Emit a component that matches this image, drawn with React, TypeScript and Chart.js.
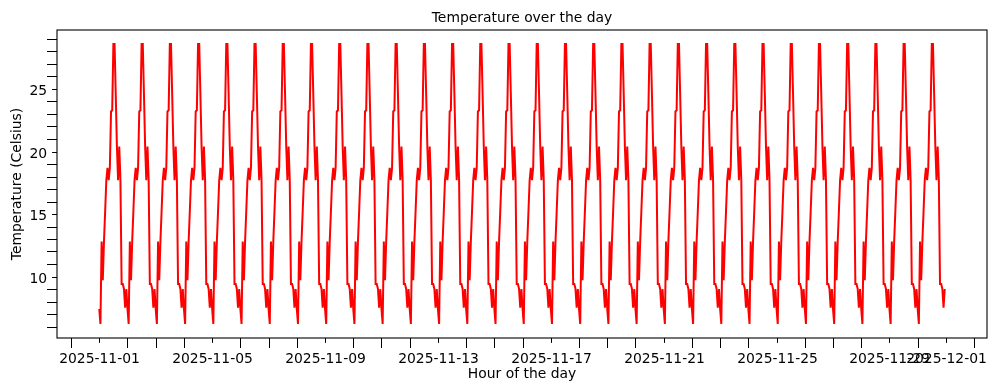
import React, { useEffect, useRef } from "react";
import { Chart, registerables } from "chart.js";

Chart.register(...registerables);

// ---- data ----
const START_DATE = "2025-11-01";
const NUM_DAYS = 30;
// one day's hourly temperatures (°C), hour 0 .. 23 — identical every day in the picture
const HOURLY_TEMPS = [
  7.4, 6.2, 12.8, 9.7, 12.8, 15.2, 17.7, 18.7, 17.7, 18.7, 23.2, 23.3,
  28.6, 28.6, 24.6, 20.4, 17.7, 20.4, 17.7, 9.4, 9.4, 9.0, 7.5, 9.0,
];
const X_TICK_LABELS = [
  "2025-11-01", "2025-11-05", "2025-11-09", "2025-11-13", "2025-11-17",
  "2025-11-21", "2025-11-25", "2025-11-29", "2025-12-01",
];
const Y_TICK_LABELS = [10, 15, 20, 25];
const TITLE = "Temperature over the day";
const X_LABEL = "Hour of the day";
const Y_LABEL = "Temperature (Celsius)";

const DAY_MS = 86400000;
const startMs = Date.parse(START_DATE + "T00:00:00Z");
const dayOf = (s: string) => (Date.parse(s + "T00:00:00Z") - startMs) / DAY_MS;

const FONT = "13.9px 'DejaVu Sans'";

export default function App() {
  const ref = useRef<HTMLCanvasElement | null>(null);

  useEffect(() => {
    document.body.style.margin = "0";
    const canvas = ref.current!;
    const points: { x: number; y: number }[] = [];
    for (let d = 0; d < NUM_DAYS; d++) {
      HOURLY_TEMPS.forEach((t, h) => points.push({ x: d + h / 24, y: t }));
    }
    const xs = points.map((p) => p.x);
    const ys = points.map((p) => p.y);
    const xMinD = Math.min(...xs), xMaxD = Math.max(...xs);
    const yMinD = Math.min(...ys), yMaxD = Math.max(...ys);
    const xm = (xMaxD - xMinD) * 0.05;
    const ym = (yMaxD - yMinD) * 0.05;

    const majorX = X_TICK_LABELS.map(dayOf);

    const axesPlugin = {
      id: "mplAxes",
      afterDraw(chart: any) {
        const { ctx, chartArea } = chart;
        const { left, right, top, bottom } = chartArea;
        const x = chart.scales.x;
        const y = chart.scales.y;
        ctx.save();
        ctx.strokeStyle = "#000";
        ctx.fillStyle = "#000";
        ctx.lineWidth = 1.1;
        ctx.strokeRect(left, top, right - left, bottom - top);

        const majLen = 4.9;
        const minLen = 10;
        const pad = 4.9;
        ctx.lineWidth = 1;
        // x ticks
        ctx.font = FONT;
        ctx.textAlign = "center";
        ctx.textBaseline = "alphabetic";
        X_TICK_LABELS.forEach((lab, i) => {
          const px = Math.round(x.getPixelForValue(majorX[i])) + 0.5;
          ctx.beginPath();
          ctx.moveTo(px, bottom);
          ctx.lineTo(px, bottom + majLen);
          ctx.stroke();
          ctx.fillText(lab, px, bottom + majLen + pad + 15.6);
        });
        for (let d = Math.ceil(x.min); d <= Math.floor(x.max); d++) {
          if (majorX.includes(d)) continue;
          const px = Math.round(x.getPixelForValue(d)) + 0.5;
          ctx.beginPath();
          ctx.moveTo(px, bottom);
          ctx.lineTo(px, bottom + minLen);
          ctx.stroke();
        }
        // y ticks
        ctx.textAlign = "right";
        Y_TICK_LABELS.forEach((v) => {
          const py = Math.round(y.getPixelForValue(v)) + 0.5;
          ctx.beginPath();
          ctx.moveTo(left, py);
          ctx.lineTo(left - majLen, py);
          ctx.stroke();
          ctx.fillText(String(v), left - majLen - pad, py + 5);
        });
        for (let v = Math.ceil(y.min); v <= Math.floor(y.max); v++) {
          if (Y_TICK_LABELS.includes(v)) continue;
          const py = Math.round(y.getPixelForValue(v)) + 0.5;
          ctx.beginPath();
          ctx.moveTo(left, py);
          ctx.lineTo(left - minLen, py);
          ctx.stroke();
        }
        // titles
        ctx.textAlign = "center";
        ctx.fillText(TITLE, (left + right) / 2, top - 8.4);
        ctx.fillText(X_LABEL, (left + right) / 2, 378);
        ctx.save();
        ctx.translate(21, (top + bottom) / 2);
        ctx.rotate(-Math.PI / 2);
        ctx.fillText(Y_LABEL, 0, 0);
        ctx.restore();
        ctx.restore();
      },
    };

    const chart = new Chart(canvas, {
      type: "line",
      data: {
        datasets: [
          {
            data: points,
            borderColor: "#ff0000",
            borderWidth: 2,
            pointRadius: 0,
            tension: 0,
            fill: false,
          },
        ],
      },
      options: {
        animation: false,
        responsive: false,
        parsing: false as any,
        layout: { padding: { left: 57, right: 10, top: 30, bottom: 53 } },
        plugins: { legend: { display: false }, tooltip: { enabled: false }, title: { display: false } },
        scales: {
          x: { type: "linear", display: false, min: xMinD - xm, max: xMaxD + xm },
          y: { type: "linear", display: false, min: yMinD - ym, max: yMaxD + ym },
        },
      },
      plugins: [axesPlugin],
    });
    return () => chart.destroy();
  }, []);

  return (
    <canvas
      ref={ref}
      width={997}
      height={391}
      style={{ display: "block", width: 997, height: 391, background: "#fff" }}
    />
  );
}
